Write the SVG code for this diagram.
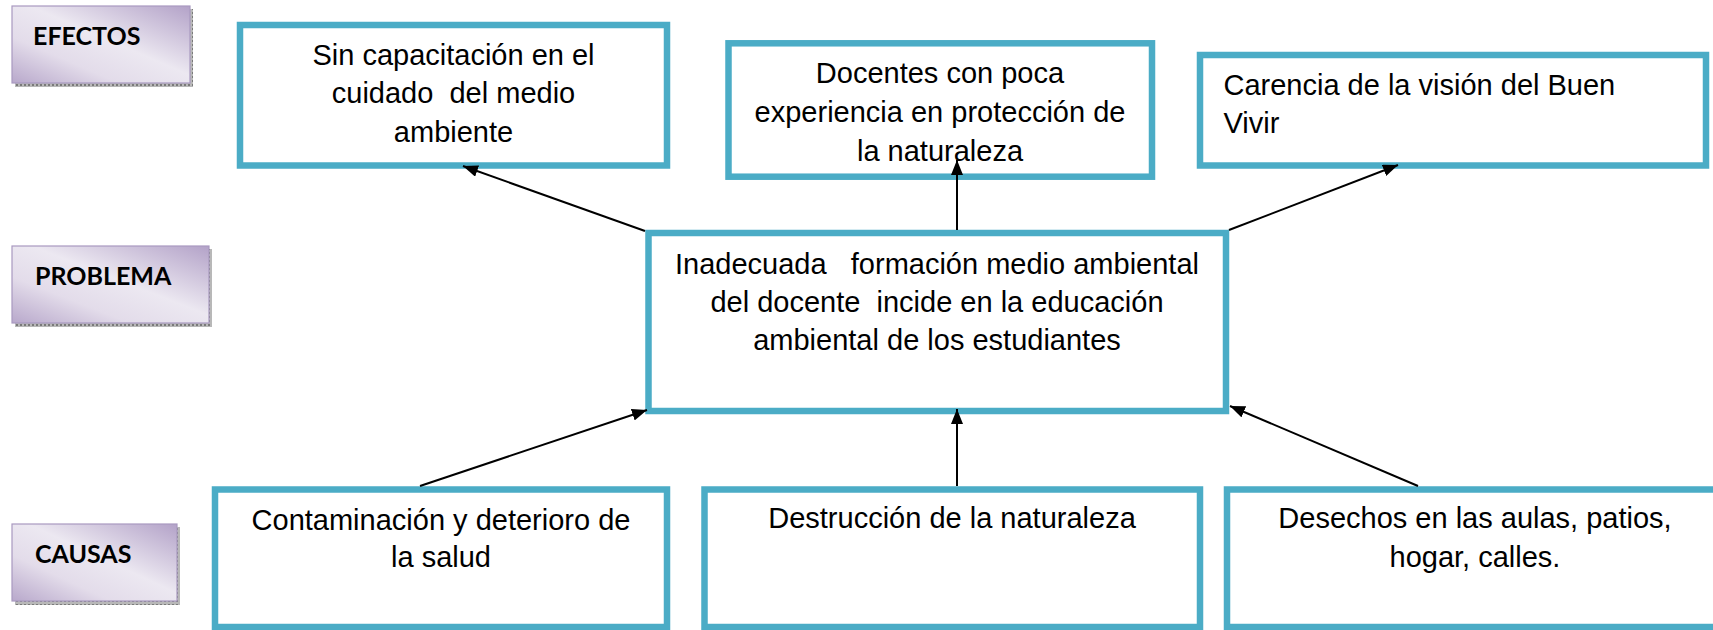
<svg xmlns="http://www.w3.org/2000/svg" width="1713" height="630" viewBox="0 0 1713 630">
<defs>
<style>
.box{fill:#ffffff;stroke:#4BACC6;stroke-width:6.5}
.t{font-family:"Liberation Sans",Arial,sans-serif;font-size:29px;fill:#000}
.c{text-anchor:middle}
.lbl{fill:url(#lg);stroke:#a999c0;stroke-width:1.2}
.shd{fill:url(#dots)}
.lt{font-family:Lato,"Liberation Sans",sans-serif;font-weight:bold;font-size:25px;fill:#000}
.con{stroke:#000;stroke-width:2;fill:none;marker-end:url(#ah)}
</style>
<linearGradient id="lg" x1="1" y1="0" x2="0" y2="1">
<stop offset="0" stop-color="#b3a2c8"/>
<stop offset="0.45" stop-color="#ece8f1"/>
<stop offset="0.7" stop-color="#e3dcea"/>
<stop offset="1" stop-color="#b8a8cb"/>
</linearGradient>
<pattern id="dots" width="4" height="4" patternUnits="userSpaceOnUse">
<rect width="4" height="4" fill="#b8b8b8"/>
<rect width="2" height="2" fill="#7a7a7a"/>
</pattern>
<marker id="ah" viewBox="0 0 15 12" refX="15" refY="6" markerWidth="15" markerHeight="12" markerUnits="userSpaceOnUse" orient="auto">
<path d="M0,0 L15,6 L0,12 z" fill="#000"/>
</marker>
</defs>

<g id="label-efectos">
<rect class="shd" x="15" y="9" width="178" height="78"/>
<rect class="lbl" x="12" y="6" width="178" height="77"/>
<text class="lt" x="33" y="45">EFECTOS</text>
</g>
<g id="label-problema">
<rect class="shd" x="15" y="249" width="197" height="78"/>
<rect class="lbl" x="12" y="246" width="197" height="77"/>
<text class="lt" x="35" y="285">PROBLEMA</text>
</g>
<g id="label-causas">
<rect class="shd" x="15" y="527" width="165" height="78"/>
<rect class="lbl" x="12" y="524" width="165" height="77"/>
<text class="lt" x="35" y="563">CAUSAS</text>
</g>

<g id="efecto-1">
<rect class="box" x="240" y="25" width="427" height="140.5"/>
<text class="t c" x="453.5" y="65">Sin capacitación en el</text>
<text class="t c" x="453.5" y="103.3" xml:space="preserve">cuidado  del medio</text>
<text class="t c" x="453.5" y="141.7">ambiente</text>
</g>
<g id="efecto-2">
<rect class="box" x="728.5" y="43.3" width="423.5" height="133.4"/>
<text class="t c" x="940" y="83.3">Docentes con poca</text>
<text class="t c" x="940" y="121.7">experiencia en protección de</text>
<text class="t c" x="940" y="160.7">la naturaleza</text>
</g>
<g id="efecto-3">
<rect class="box" x="1200" y="55" width="506" height="110.5"/>
<text class="t" x="1223.5" y="95">Carencia de la visión del Buen</text>
<text class="t" x="1223.5" y="133.3">Vivir</text>
</g>
<g id="problema">
<rect class="box" x="648.5" y="233" width="577.5" height="178"/>
<text class="t c" x="937" y="274" xml:space="preserve">Inadecuada   formación medio ambiental</text>
<text class="t c" x="937" y="311.7" xml:space="preserve">del docente  incide en la educación</text>
<text class="t c" x="937" y="350">ambiental de los estudiantes</text>
</g>
<g id="causa-1">
<rect class="box" x="215" y="489.5" width="452" height="137.5"/>
<text class="t c" x="441" y="530">Contaminación y deterioro de</text>
<text class="t c" x="441" y="566.7">la salud</text>
</g>
<g id="causa-2">
<rect class="box" x="704.5" y="489.5" width="495.5" height="137.5"/>
<text class="t c" x="952" y="528.3">Destrucción de la naturaleza</text>
</g>
<g id="causa-3">
<rect class="box" x="1227" y="489.5" width="496" height="137.5"/>
<text class="t c" x="1475" y="528.3">Desechos en las aulas, patios,</text>
<text class="t c" x="1475" y="566.7">hogar, calles.</text>
</g>

<g id="connectors">
<line class="con" x1="645" y1="231" x2="463" y2="166"/>
<line class="con" x1="957" y1="230" x2="957" y2="160"/>
<line class="con" x1="1229" y1="230" x2="1398" y2="165"/>
<line class="con" x1="420" y1="486" x2="647" y2="410"/>
<line class="con" x1="957" y1="486" x2="957" y2="409"/>
<line class="con" x1="1418" y1="486" x2="1230" y2="406"/>
</g>
</svg>
